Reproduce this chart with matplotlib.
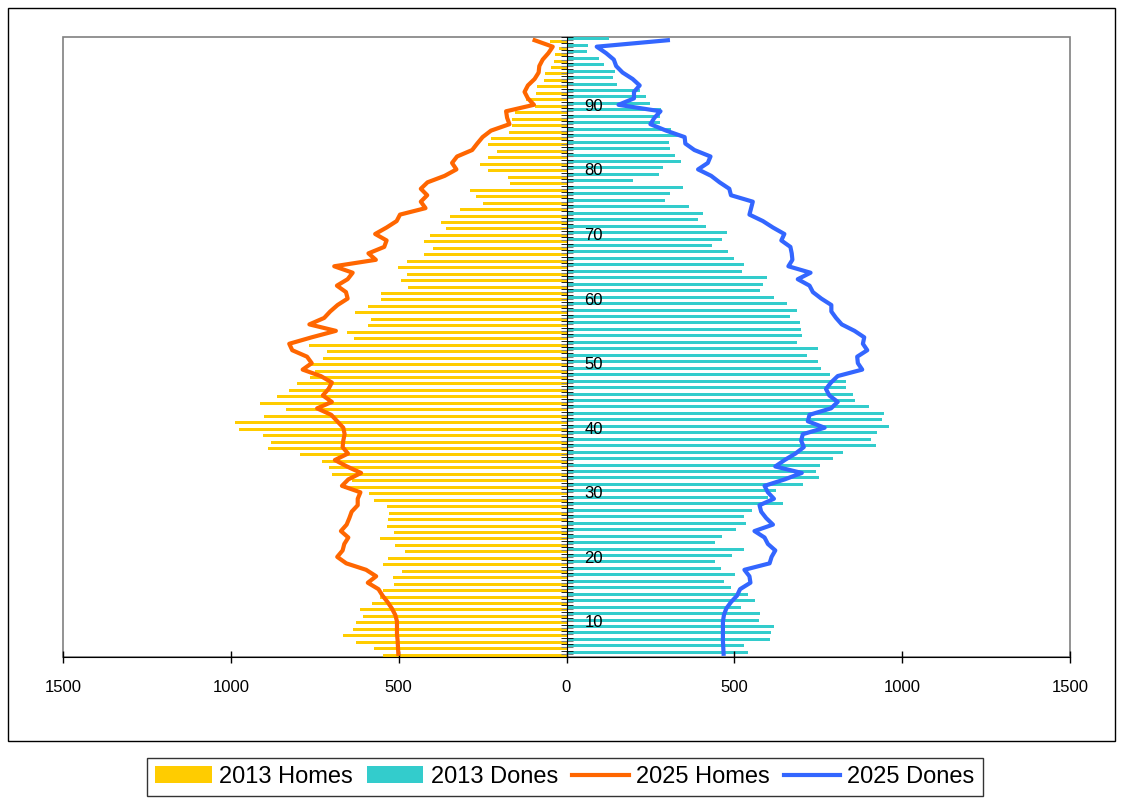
import numpy as np
import matplotlib.pyplot as plt
from matplotlib.patches import Rectangle
from matplotlib.ticker import FuncFormatter

plt.rcParams['font.family'] = ['Liberation Sans', 'DejaVu Sans']

# edats 5..100
ages = np.arange(5, 101)

homes_2013 = [547, 573, 627, 667, 637, 627, 607, 615, 580, 557,   # 5-14
              547, 513, 518, 491, 547, 531, 480, 510, 556, 513,   # 15-24
              536, 531, 528, 536, 573, 587, 662, 639, 699, 707,   # 25-34
              729, 793, 888, 880, 905, 975, 987, 900, 835, 912,   # 35-44
              861, 826, 804, 764, 749, 771, 726, 714, 766, 634,   # 45-54
              655, 590, 583, 629, 590, 553, 553, 471, 493, 475,   # 55-64
              501, 475, 426, 399, 424, 407, 360, 373, 347, 317,   # 65-74
              248, 270, 287, 167, 175, 235, 257, 235, 208, 235,   # 75-84
              226, 170, 163, 163, 152, 95, 122, 92, 88, 66,       # 85-94
              63, 45, 36, 33, 23, 49]                             # 95-100

dones_2013 = [541, 530, 607, 610, 618, 572, 575, 520, 563, 540,
              491, 469, 503, 461, 443, 494, 528, 443, 464, 504,
              536, 528, 553, 645, 600, 623, 704, 752, 744, 756,
              794, 823, 922, 906, 926, 960, 940, 947, 901, 858,
              854, 833, 833, 785, 758, 750, 717, 750, 686, 703,
              699, 695, 666, 686, 657, 618, 576, 584, 597, 523,
              528, 499, 481, 434, 464, 477, 417, 391, 408, 365,
              292, 309, 348, 198, 275, 288, 340, 323, 309, 306,
              337, 310, 279, 280, 282, 249, 236, 218, 151, 138,
              145, 111, 98, 60, 64, 128]

homes_2025 = [501, 502, 503, 505, 505, 505, 510, 520, 533, 548,
              560, 592, 567, 597, 656, 683, 667, 662, 650, 672,
              655, 647, 640, 622, 622, 614, 669, 650, 612, 654,
              690, 651, 667, 665, 661, 665, 683, 701, 743, 699,
              726, 709, 699, 732, 786, 759, 773, 817, 826, 759,
              687, 766, 722, 704, 682, 652, 657, 684, 652, 637,
              692, 568, 590, 543, 536, 570, 536, 506, 496, 420,
              434, 415, 434, 414, 363, 328, 341, 326, 281, 266,
              250, 225, 170, 177, 180, 97, 115, 125, 115, 95,
              83, 81, 71, 54, 41, 95]

dones_2025 = [468, 467, 466, 466, 466, 466, 469, 476, 490, 508,
              517, 548, 545, 530, 605, 611, 622, 600, 590, 560,
              615, 595, 580, 575, 618, 600, 590, 650, 701, 622,
              650, 682, 707, 699, 704, 769, 719, 724, 788, 808,
              783, 773, 788, 808, 881, 868, 866, 896, 883, 887,
              858, 820, 803, 789, 789, 759, 734, 724, 689, 727,
              661, 673, 671, 667, 640, 649, 615, 585, 545, 550,
              555, 490, 485, 456, 431, 392, 421, 429, 381, 354,
              352, 297, 250, 262, 280, 155, 201, 201, 218, 197,
              167, 148, 141, 118, 90, 302]

W, H = 1123, 799
fig = plt.figure(figsize=(W / 100, H / 100), dpi=100)
ax = fig.add_axes([63 / W, 1 - 657 / H, (1070 - 63) / W, (657 - 37) / H])

# barres 2013 i línies 2025
b1 = ax.barh(ages - 0.22, -np.array(homes_2013), height=0.46, color='#FFCC00', label='2013 Homes')
b2 = ax.barh(ages + 0.22, dones_2013, height=0.46, color='#33CCCC', label='2013 Dones')
l1, = ax.plot(-np.array(homes_2025), ages, color='#FF6600', lw=3, label='2025 Homes')
l2, = ax.plot(dones_2025, ages, color='#3366FF', lw=3, label='2025 Dones')

ax.set_xlim(-1500, 1500)
ax.set_ylim(4.5, 100.5)

# eix x amb valors absoluts
ax.set_xticks(np.arange(-1500, 1501, 500))
ax.xaxis.set_major_formatter(FuncFormatter(lambda v, p: f'{abs(int(v))}'))
ax.tick_params(axis='x', direction='inout', length=9, width=1, labelsize=12, pad=12)

# eix vertical al zero, etiquetes a la dreta
ax.spines['right'].set_position(('data', 0))
ax.spines['right'].set_color('black')
ax.spines['bottom'].set_color('black')
ax.spines['left'].set_visible(False)
ax.spines['top'].set_visible(False)
ax.yaxis.tick_right()
ax.set_yticks(ages)
ax.set_yticklabels([str(a) if a % 10 == 0 and a < 100 else '' for a in ages])
ax.set_yticks(np.append(ages - 0.5, 100.5), minor=True)
ax.tick_params(axis='y', which='major', direction='inout', length=8, color='#808080',
               labelsize=12, pad=9)
ax.tick_params(axis='y', which='minor', direction='inout', length=8, color='black')

# marc gris de l'àrea de traçat
ax.add_patch(Rectangle((0, 0), 1, 1, transform=ax.transAxes, fill=False,
                       edgecolor='#808080', lw=1.2, clip_on=False, zorder=0))

# marc exterior del gràfic
fig.add_artist(Rectangle((8 / W, 1 - 741 / H), (1115 - 8) / W, (741 - 8) / H,
                         transform=fig.transFigure, fill=False, edgecolor='black', lw=1))

leg = fig.legend(handles=[b1, b2, l1, l2], loc='center', bbox_to_anchor=(0.503, 0.0275),
                 ncol=4, fontsize=17, frameon=True, fancybox=False, edgecolor='black',
                 handlelength=2.4, handletextpad=0.3, columnspacing=0.6, borderpad=0.35)
leg.get_frame().set_linewidth(1)

fig.savefig('out.png', dpi=100)
